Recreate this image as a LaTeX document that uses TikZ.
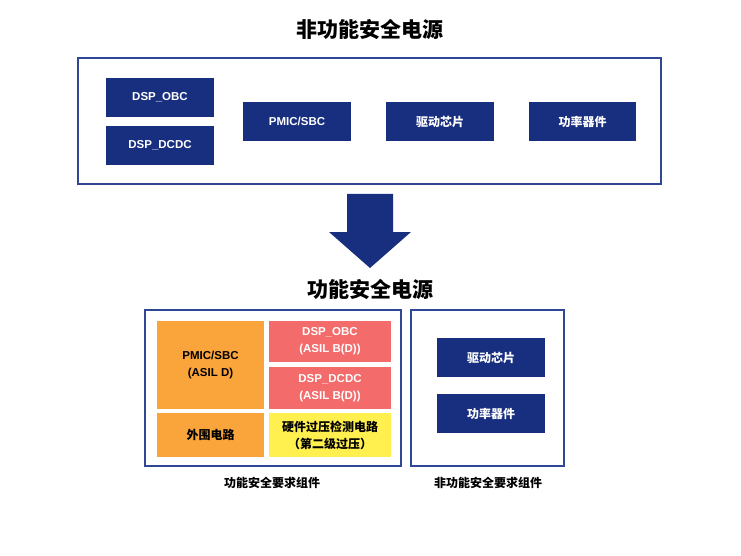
\documentclass[tikz,border=0pt]{standalone}
\usepackage{fontspec}
\setmainfont{Liberation Sans}
\newfontfamily\cjk{Noto Sans CJK SC}
\definecolor{navy}{RGB}{24,47,127}
\definecolor{frameblue}{RGB}{47,72,150}
\definecolor{orangebox}{RGB}{250,164,60}
\definecolor{redbox}{RGB}{243,107,107}
\definecolor{yellowbox}{RGB}{255,240,80}
\tikzset{
  lbl/.style={font=\bfseries\fontsize{11.5}{14}\selectfont,align=center,inner sep=0pt},
  wlbl/.style={lbl,text=white},
  clbl/.style={font=\cjk\bfseries\fontsize{12}{17}\selectfont,align=center,inner sep=0pt},
  wclbl/.style={clbl,text=white},
  ttl/.style={font=\cjk\bfseries\fontsize{21}{24}\selectfont,inner sep=0pt},
  frm/.style={draw=frameblue,line width=1.5pt}
}
\begin{document}
\begin{tikzpicture}[x=1pt,y=-1pt]
\useasboundingbox (0,0) rectangle (741,556);
%\fill[white] (0,0) rectangle (741,556);
\path[draw] (370,30) node[ttl] (titleA) {非功能安全电源};
\draw[frm] (78,58) rectangle (661,184);
\fill[navy] (106,78) rectangle (214,117);
\path[draw] (160,97.5) node[wlbl] (obcA) {DSP\_OBC};
\fill[navy] (106,126) rectangle (214,165);
\path[draw] (160,145.5) node[wlbl] (dcdcA) {DSP\_DCDC};
\fill[navy] (243,102) rectangle (351,141);
\path[draw] (297,121.5) node[wlbl] (pmicA) {PMIC/SBC};
\fill[navy] (386,102) rectangle (494,141);
\path[draw] (440,121.5) node[wclbl] (drvA) {驱动芯片};
\fill[navy] (529,102) rectangle (636,141);
\path[draw] (582.5,121.5) node[wclbl] (pwrA) {功率器件};
% big arrow
\fill[navy] (347,194) -- (393,194) -- (393,232) -- (411,232) -- (370,268) -- (329,232) -- (347,232) -- cycle;
\path[draw] (370,290) node[ttl] (titleB) {功能安全电源};
\draw[frm] (145,310) rectangle (401,466);
\fill[orangebox] (157,321) rectangle (264,409);
\path[draw] (210.5,365) node[lbl] (pmicB) {PMIC/SBC\\[3pt](ASIL D)};
\fill[orangebox] (157,413) rectangle (264,457);
\path[draw] (210.5,435) node[clbl] (periB) {外围电路};
\fill[redbox] (269,321) rectangle (391,362);
\path[draw] (330,341.5) node[wlbl] (obcB) {DSP\_OBC\\[3pt](ASIL B(D))};
\fill[redbox] (269,367) rectangle (391,409);
\path[draw] (330,388) node[wlbl] (dcdcB) {DSP\_DCDC\\[3pt](ASIL B(D))};
\fill[yellowbox] (269,413) rectangle (391,457);
\path[draw] (330,435) node[clbl] (hwB) {硬件过压检测电路\\（第二级过压）};
\path[draw] (272,483) node[clbl] (safeB) {功能安全要求组件};
\draw[frm] (411,310) rectangle (564,466);
\fill[navy] (437,338) rectangle (545,377);
\path[draw] (491,357.5) node[wclbl] (drvB) {驱动芯片};
\fill[navy] (437,394) rectangle (545,433);
\path[draw] (491,413.5) node[wclbl] (pwrB) {功率器件};
\path[draw] (488,483) node[clbl] (nonsafeB) {非功能安全要求组件};
\end{tikzpicture}
\end{document}
